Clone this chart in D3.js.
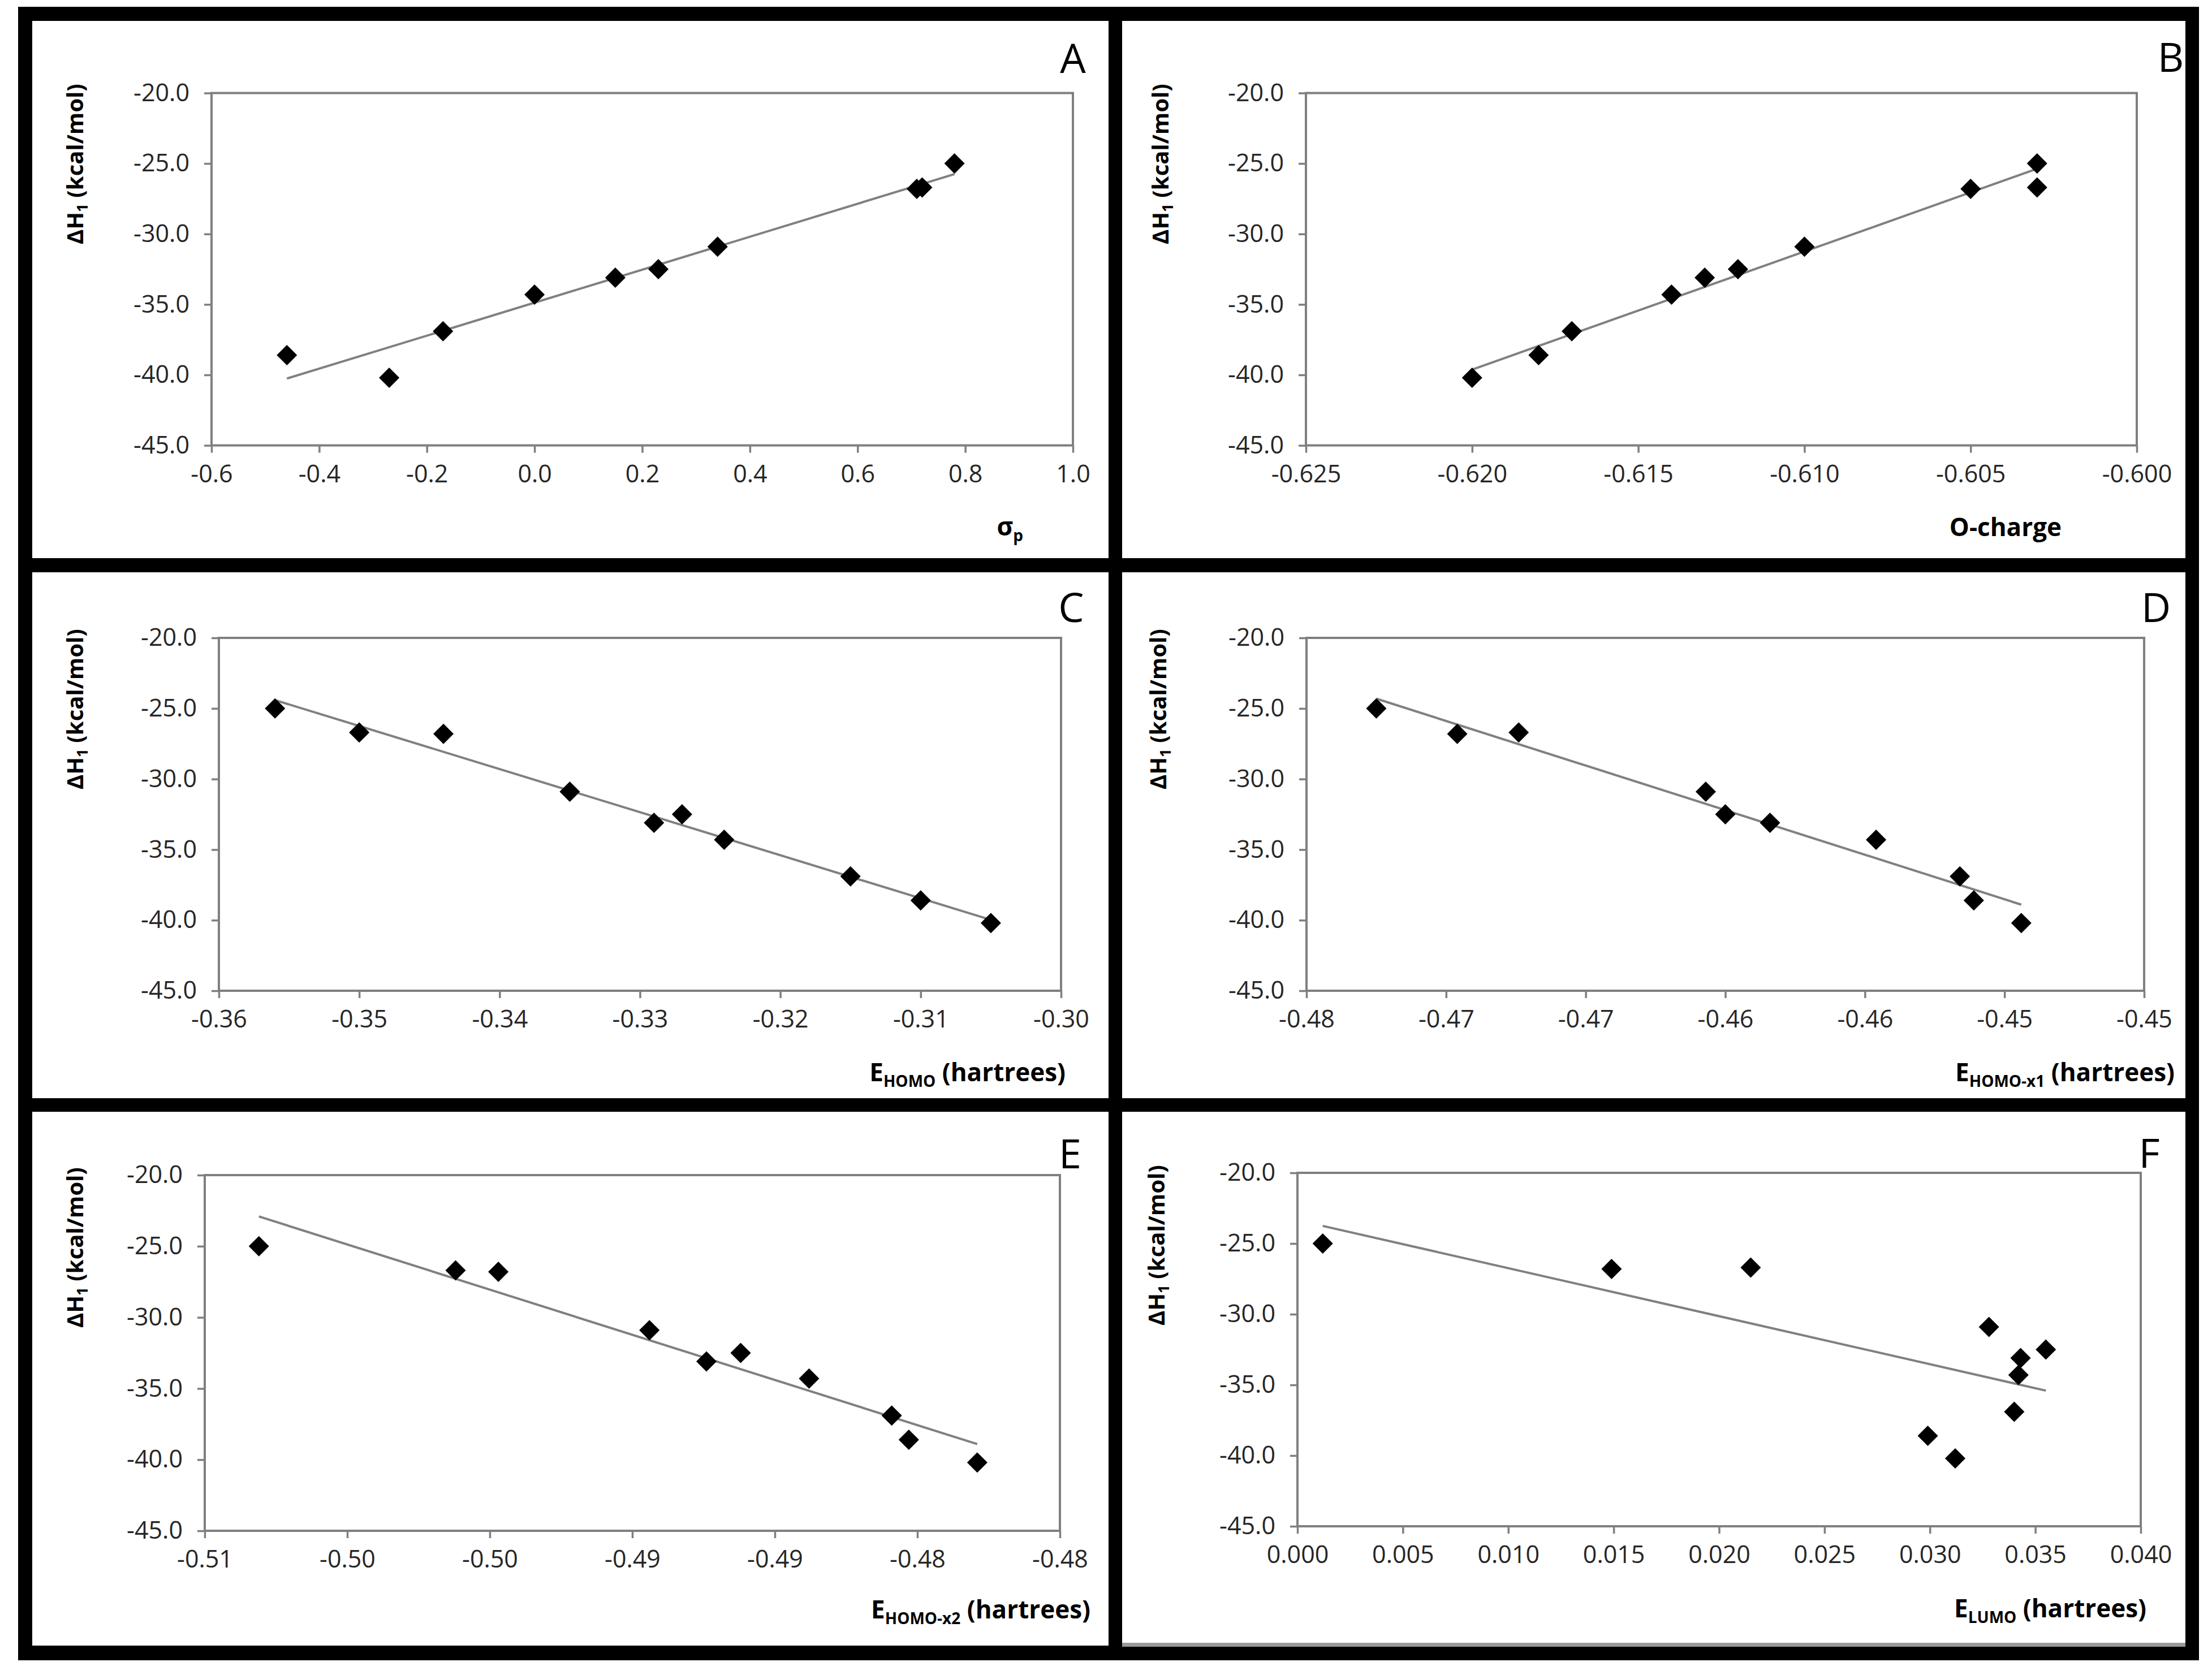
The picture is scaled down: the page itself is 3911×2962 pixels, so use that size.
<!DOCTYPE html>
<html><head><meta charset="utf-8">
<script src="https://cdn.jsdelivr.net/npm/d3@7"></script>
<style>html,body{margin:0;padding:0;background:#fff;} svg{display:block;}</style>
</head><body><svg id="c" width="3911" height="2962"></svg>
<script>
// ΔH1 (kcal/mol) for the ten compounds
const dH1 = [-25.0, -26.7, -26.8, -30.9, -32.5, -33.1, -34.3, -36.9, -38.6, -40.2];
// descriptors, same compound order
const sigmaP  = [0.78, 0.72, 0.71, 0.34, 0.23, 0.15, 0.00, -0.17, -0.46, -0.27];
const oCharge = [-0.603, -0.603, -0.605, -0.610, -0.612, -0.613, -0.614, -0.617, -0.618, -0.620];
const eHomo   = [-0.356, -0.350, -0.344, -0.335, -0.327, -0.329, -0.324, -0.315, -0.310, -0.305];
const eHomoX1 = [-0.4775, -0.4724, -0.4746, -0.4657, -0.4650, -0.4634, -0.4596, -0.4566, -0.4561, -0.4544];
const eHomoX2 = [-0.5081, -0.5012, -0.4997, -0.4944, -0.4912, -0.4924, -0.4888, -0.4859, -0.4853, -0.4829];
const eLumo   = [0.0012, 0.0215, 0.0149, 0.0328, 0.0355, 0.0343, 0.0342, 0.0340, 0.0299, 0.0312];
// tick labels
const yTickLabels = ["-20.0", "-25.0", "-30.0", "-35.0", "-40.0", "-45.0"];
const xTicksA = ["-0.6", "-0.4", "-0.2", "0.0", "0.2", "0.4", "0.6", "0.8", "1.0"];
const xTicksB = ["-0.625", "-0.620", "-0.615", "-0.610", "-0.605", "-0.600"];
const xTicksC = ["-0.36", "-0.35", "-0.34", "-0.33", "-0.32", "-0.31", "-0.30"];
const xTicksD = ["-0.48", "-0.47", "-0.47", "-0.46", "-0.46", "-0.45", "-0.45"];
const xTicksE = ["-0.51", "-0.50", "-0.50", "-0.49", "-0.49", "-0.48", "-0.48"];
const xTicksF = ["0.000", "0.005", "0.010", "0.015", "0.020", "0.025", "0.030", "0.035", "0.040"];
const panelLetters = ["A", "B", "C", "D", "E", "F"];

const svg = d3.select("#c");
const FONT = "'Open Sans', Lato, 'DejaVu Sans', sans-serif";

// frame
svg.append("rect").attr("x", 32).attr("y", 12).attr("width", 3856).attr("height", 2924).attr("fill", "#000");
const cells = [
  [57, 37, 1960, 987], [1984, 37, 3864, 987],
  [57, 1012, 1960, 1942], [1984, 1012, 3864, 1942],
  [57, 1966, 1960, 2910], [1984, 1966, 3864, 2912]
];
cells.forEach(c => svg.append("rect").attr("x", c[0]).attr("y", c[1]).attr("width", c[2]-c[0]).attr("height", c[3]-c[1]).attr("fill", "#fff"));
svg.append("rect").attr("x", 1984).attr("y", 2905).attr("width", 1880).attr("height", 7).attr("fill", "#9a9a9a");

const panels = [
  {x: sigmaP,  dom: [-0.6, 1.0],     ticks: xTicksA, box: [374, 1897, 164.5, 787.6], yt: [141, 290],  letter: [1897, 129],  xt: [1809, 947],  title: [["σ", 0], ["p", 1]]},
  {x: oCharge, dom: [-0.625, -0.600], ticks: xTicksB, box: [2309, 3778, 164.5, 787.6], yt: [2060, 290], letter: [3838, 127],  xt: [3645, 948],  title: [["O-charge", 0]]},
  {x: eHomo,   dom: [-0.36, -0.30],   ticks: xTicksC, box: [387, 1876, 1128, 1752],   yt: [141, 1254],  letter: [1894, 1100], xt: [1884, 1912], title: [["E", 0], ["HOMO", 1], [" (hartrees)", 0]]},
  {x: eHomoX1, dom: [-0.48, -0.45],   ticks: xTicksD, box: [2310, 3791, 1128, 1752],  yt: [2056, 1254], letter: [3812, 1100], xt: [3845, 1912], title: [["E", 0], ["HOMO-x1", 1], [" (hartrees)", 0]]},
  {x: eHomoX2, dom: [-0.51, -0.48],   ticks: xTicksE, box: [362, 1874, 2078, 2707],   yt: [141, 2206],  letter: [1892, 2066], xt: [1928, 2862], title: [["E", 0], ["HOMO-x2", 1], [" (hartrees)", 0]]},
  {x: eLumo,   dom: [0.0, 0.04],      ticks: xTicksF, box: [2294, 3785, 2074, 2699],  yt: [2053, 2202], letter: [3800, 2065], xt: [3795, 2860], title: [["E", 0], ["LUMO", 1], [" (hartrees)", 0]]}
];

const diamond = {draw(ctx, size) { const r = Math.sqrt(size / 2); ctx.moveTo(0, -r); ctx.lineTo(r, 0); ctx.lineTo(0, r); ctx.lineTo(-r, 0); ctx.closePath(); }};

function addTitle(sel, parts, big, small, shift) {
  let down = false;
  parts.forEach(([t, sub]) => {
    const ts = sel.append("tspan").text(t).attr("font-size", sub ? small : big);
    if (sub && !down) { ts.attr("dy", shift); down = true; }
    else if (!sub && down) { ts.attr("dy", -shift); down = false; }
  });
}

panels.forEach((p, i) => {
  const [l, r, t, b] = p.box;
  const xs = d3.scaleLinear().domain(p.dom).range([l, r]);
  const ys = d3.scaleLinear().domain([-45, -20]).range([b, t]);
  const g = svg.append("g");

  const xTickVals = p.ticks.map((_, k) => p.dom[0] + (p.dom[1] - p.dom[0]) * k / (p.ticks.length - 1));
  const yTickVals = yTickLabels.map(s => +s);

  const xa = g.append("g").attr("transform", `translate(0,${b})`)
    .call(d3.axisBottom(xs).tickValues(xTickVals).tickFormat((d, k) => p.ticks[k]).tickSizeInner(13).tickSizeOuter(0).tickPadding(20));
  const ya = g.append("g").attr("transform", `translate(${l},0)`)
    .call(d3.axisLeft(ys).tickValues(yTickVals).tickFormat((d, k) => yTickLabels[k]).tickSizeInner(13).tickSizeOuter(0).tickPadding(26));
  [xa, ya].forEach(a => {
    a.select(".domain").remove();
    a.selectAll(".tick line").attr("stroke", "#7f7f7f").attr("stroke-width", 3.5);
    a.selectAll(".tick text").attr("font-family", FONT).attr("font-size", 43).attr("fill", "#262626");
  });
  xa.selectAll(".tick text").attr("dy", "0.75em");

  g.append("rect").attr("x", l).attr("y", t).attr("width", r - l).attr("height", b - t)
    .attr("fill", "none").attr("stroke", "#7f7f7f").attr("stroke-width", 4);

  // linear trend line (least squares)
  const pts = p.x.map((v, k) => [v, dH1[k]]);
  const mx = d3.mean(pts, d => d[0]), my = d3.mean(pts, d => d[1]);
  const slope = d3.sum(pts, d => (d[0] - mx) * (d[1] - my)) / d3.sum(pts, d => (d[0] - mx) ** 2);
  const icpt = my - slope * mx;
  const [x0, x1] = d3.extent(p.x);
  g.append("path").datum([[x0, icpt + slope * x0], [x1, icpt + slope * x1]])
    .attr("d", d3.line().x(d => xs(d[0])).y(d => ys(d[1])))
    .attr("stroke", "#808080").attr("stroke-width", 4).attr("fill", "none");

  g.selectAll("path.pt").data(pts).enter().append("path").attr("class", "pt")
    .attr("transform", d => `translate(${xs(d[0])},${ys(d[1])})`)
    .attr("d", d3.symbol().type(diamond).size(650)).attr("fill", "#000");

  // y title
  const yt = g.append("text").attr("transform", `translate(${p.yt[0]},${p.yt[1]}) rotate(-90)`)
    .attr("text-anchor", "middle").attr("dy", "0.35em")
    .attr("font-family", FONT).attr("font-weight", "bold").attr("fill", "#000");
  addTitle(yt, [["ΔH", 0], ["1", 1], [" (kcal/mol)", 0]], 40, 26, 8);

  // x title
  const xt = g.append("text").attr("x", p.xt[0]).attr("y", p.xt[1]).attr("text-anchor", "end")
    .attr("font-family", FONT).attr("font-weight", "bold").attr("fill", "#000");
  addTitle(xt, p.title, 44, 28, 10);

  // panel letter
  g.append("text").attr("x", p.letter[0]).attr("y", p.letter[1]).attr("text-anchor", "middle")
    .attr("font-family", FONT).attr("font-size", 72).attr("fill", "#000").text(panelLetters[i]);
});
</script></body></html>
